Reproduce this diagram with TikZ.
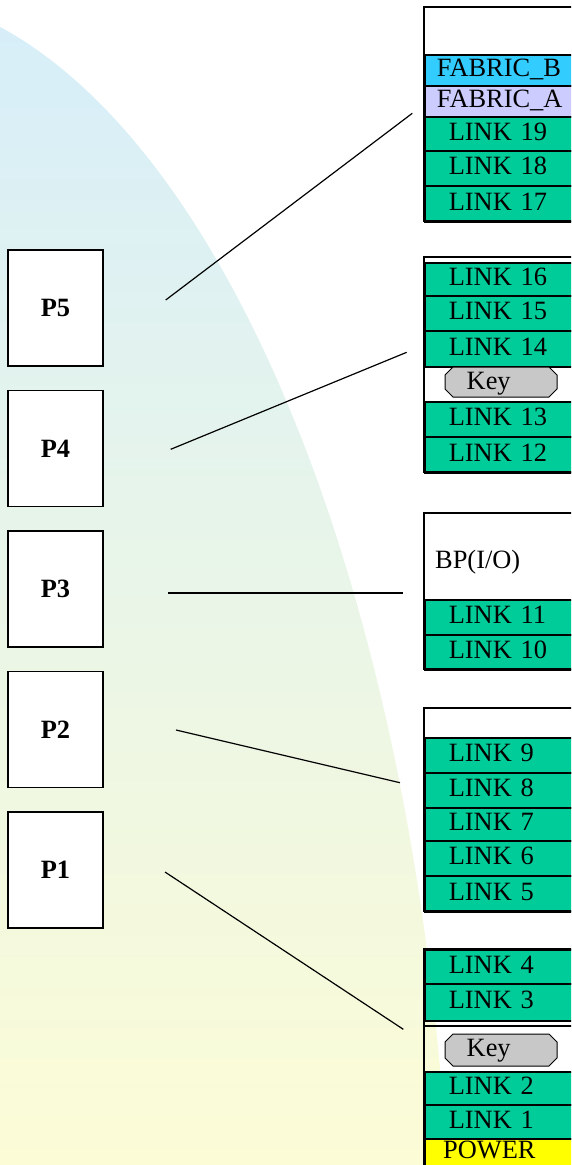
\documentclass[tikz,border=0pt]{standalone}
\usepackage{fontspec}
\setmainfont{Liberation Serif}

\definecolor{linkgreen}{HTML}{00CC99}
\definecolor{fabricb}{HTML}{33CCFF}
\definecolor{fabrica}{HTML}{CCCCFF}
\definecolor{keygray}{HTML}{C8C8C8}
\definecolor{powerfill}{HTML}{FFFF00}
\definecolor{bgblue}{HTML}{D6EEFA}
\definecolor{bgyellow}{HTML}{FCFCD6}

\tikzset{
  bigfont/.style={font=\fontsize{26.4}{30}\selectfont},
  rackrow/.style={draw, line width=1.6pt, anchor=north west, inner ysep=0pt,
    inner xsep=24pt, text width=160pt, align=left, text height=18pt,
    text depth=5pt, bigfont},
  linkrow/.style={rackrow, fill=linkgreen},
  pbox/.style={draw, fill=white, line width=1.4pt, minimum width=95pt,
    minimum height=116pt, font=\fontsize{26.4}{30}\selectfont\bfseries},
  keyplate/.style={draw, fill=keygray, line width=1pt},
  plaintext/.style={bigfont, anchor=base west, inner sep=0pt},
  rackframe/.style={draw, line width=1.6pt},
  wire/.style={line width=1.2pt}
}

\begin{document}
\begin{tikzpicture}[x=1pt,y=-1pt]
\useasboundingbox (0,0) rectangle (571,1165);
\clip (0,0) rectangle (571,1165);

% background
\begin{scope}
\clip (-135,1341) ellipse [x radius=587, y radius=1350];
\shade[top color=bgblue,bottom color=bgyellow] (0,0) rectangle (571,1165);
\end{scope}

% processor boxes
\foreach \n/\y in {5/308,4/448.5,3/589,2/729.5,1/870} {
  \node[pbox] (p\n) at (55.5,\y) {P\n};
}

% slot 5 (top)
\node[rackrow, fill=fabricb, inner xsep=12pt, minimum height=31pt] (fabB) at (424,54) {FABRIC\_B};
\node[rackrow, fill=fabrica, inner xsep=12pt, minimum height=31pt] (fabA) at (424,85) {FABRIC\_A};
\foreach \nm/\t/\h/\lab in {l19/116/34/LINK 19, l18/150/35/LINK 18, l17/185/36/LINK 17} {
  \node[linkrow, minimum height=\h pt] (\nm) at (424,\t) {\lab};
}
\draw[rackframe] (600,7) -- (424,7) -- (424,221) -- (600,221);

% slot 4
\foreach \nm/\t/\h/\lab in {l16/262/33/LINK 16, l15/295/35/LINK 15, l14/330/36/LINK 14,
    l13/401/35/LINK 13, l12/436/36/LINK 12} {
  \node[linkrow, minimum height=\h pt] (\nm) at (424,\t) {\lab};
}
\filldraw[keyplate] (445,375) -- ++(8,-8) -- ++(96,0) -- ++(8,8) -- ++(0,14)
  -- ++(-8,8) -- ++(-96,0) -- ++(-8,-8) -- cycle;
\node[plaintext] (keyA) at (466.5,389.5) {Key};
\draw[rackframe] (600,257) -- (424,257) -- (424,472) -- (600,472);

% slot 3
\node[plaintext] (bpio) at (435,568.5) {BP(I/O)};
\foreach \nm/\t/\h/\lab in {l11/599/35/LINK 11, l10/634/35/LINK 10} {
  \node[linkrow, minimum height=\h pt] (\nm) at (424,\t) {\lab};
}
\draw[rackframe] (600,513) -- (424,513) -- (424,669) -- (600,669);

% slot 2
\foreach \nm/\t/\h/\lab in {l9/737/35/LINK 9, l8/772/35/LINK 8, l7/807/33/LINK 7,
    l6/840/35/LINK 6, l5/875/36/LINK 5} {
  \node[linkrow, minimum height=\h pt] (\nm) at (424,\t) {\lab};
}
\draw[rackframe] (600,708) -- (424,708) -- (424,911) -- (600,911);

% slot 1 (bottom)
\foreach \nm/\t/\h/\lab in {l4/949/34/LINK 4, l3/983/37/LINK 3, l2/1071/33/LINK 2,
    l1/1104/34/LINK 1} {
  \node[linkrow, minimum height=\h pt] (\nm) at (424,\t) {\lab};
}
\node[rackrow, fill=powerfill, minimum height=30pt] (powerrow) at (424,1138) {};
\node[plaintext] (power) at (443,1158.5) {POWER};
\draw[line width=1.4pt] (424,1026) -- (600,1026);
\filldraw[keyplate] (445,1042) -- ++(8,-8) -- ++(96,0) -- ++(8,8) -- ++(0,16)
  -- ++(-8,8) -- ++(-96,0) -- ++(-8,-8) -- cycle;
\node[plaintext] (keyB) at (466.5,1056) {Key};
\draw[rackframe] (600,949) -- (424,949) -- (424,1180);

% connectors
\coordinate (w5a) at (165.7,300);   \coordinate (w5b) at (412.3,113.3);
\coordinate (w4a) at (170.7,449.3); \coordinate (w4b) at (406.7,352.3);
\coordinate (w3a) at (168,593);     \coordinate (w3b) at (403,593);
\coordinate (w2a) at (176,730);     \coordinate (w2b) at (400,782.7);
\coordinate (w1a) at (165,872);     \coordinate (w1b) at (403.3,1029.3);
\foreach \n in {1,...,5} {
  \draw[wire] (w\n a) -- (w\n b);
}
\end{tikzpicture}
\end{document}
